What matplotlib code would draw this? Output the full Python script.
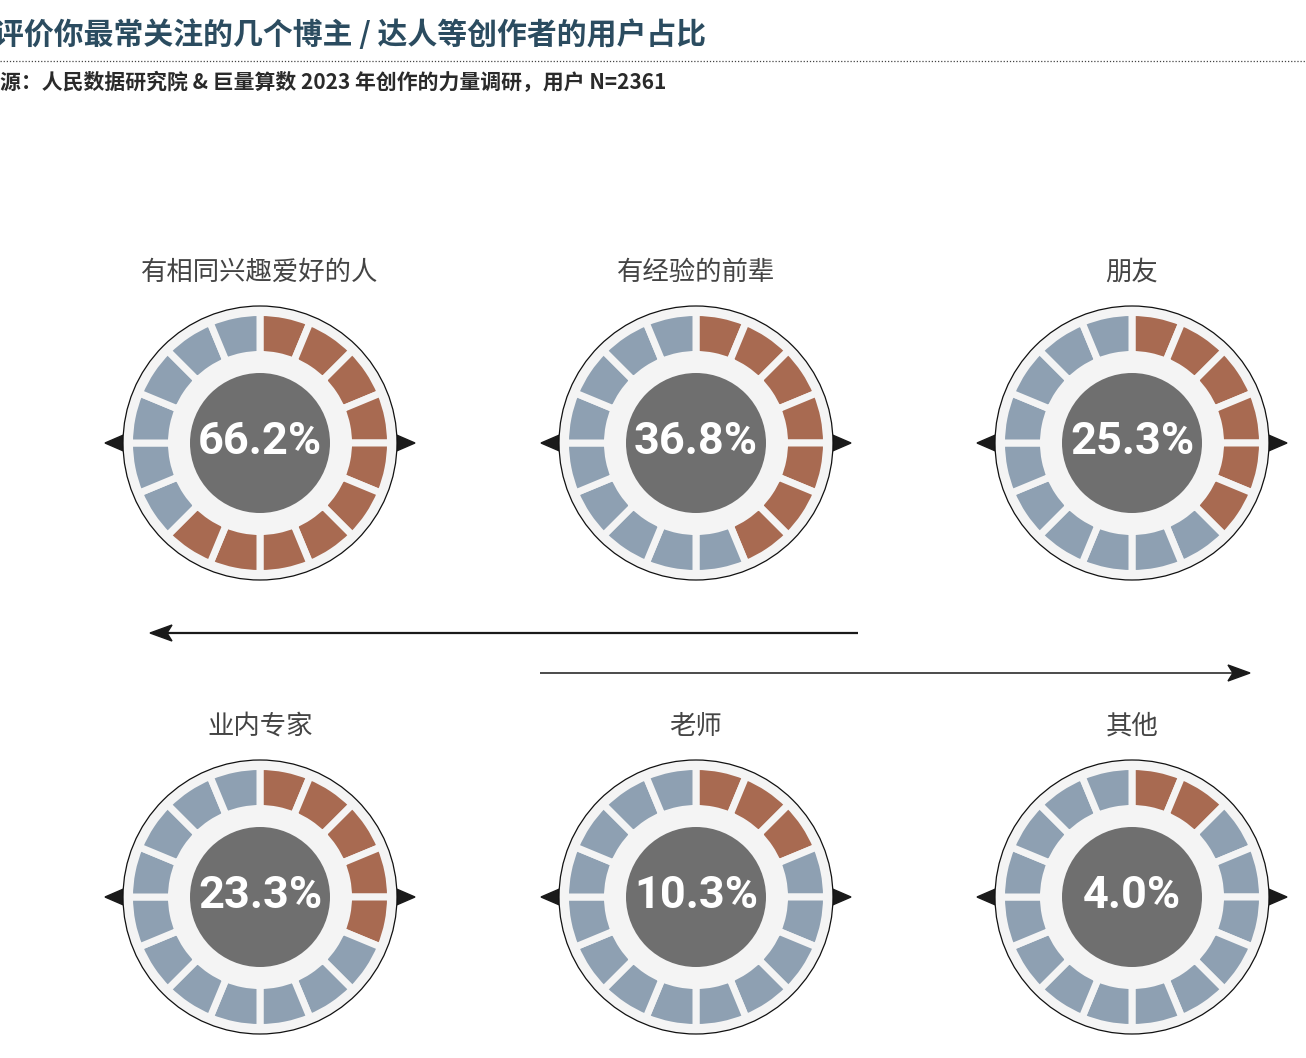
import matplotlib
matplotlib.use('Agg')
import matplotlib.pyplot as plt
from matplotlib import font_manager as fm
from matplotlib.patches import Circle, Wedge, Polygon

plt.rcParams['font.family'] = ['Noto Sans CJK SC', 'DejaVu Sans']

# Data
labels = ['有相同兴趣爱好的人', '有经验的前辈', '朋友', '业内专家', '老师', '其他']
shares = [66.2, 36.8, 25.3, 23.3, 10.3, 4.0]
filled_segments = [10, 7, 6, 5, 3, 2]
n_segments = 16

title = '评价你最常关注的几个博主 / 达人等创作者的用户占比'
subtitle = '源：人民数据研究院 & 巨量算数 2023 年创作的力量调研，用户 N=2361'

# Colours
c_fill = '#a86a51'
c_empty = '#8ea0b2'
c_ring = '#f4f4f4'
c_center = '#6f6f6f'
c_title = '#2b4c60'


def narrow_font():
    """Liberation Sans Narrow bold if present, otherwise Roboto bold."""
    names = {f.name for f in fm.fontManager.ttflist}
    if 'Liberation Sans Narrow' in names:
        return fm.FontProperties(family='Liberation Sans Narrow',
                                 weight='bold', size=37)
    return fm.FontProperties(family=['Roboto', 'DejaVu Sans'], weight='bold',
                             size=32.5)


fig = plt.figure(figsize=(13.06, 10.58), dpi=100)
ax = fig.add_axes([0, 0, 1, 1])
ax.set_xlim(0, 1306)
ax.set_ylim(1058, 0)
ax.axis('off')

# Header
ax.text(706, 35, title, ha='right', va='center', fontsize=21.5,
        fontweight='bold', color=c_title)
ax.plot([0, 1306], [61, 61], color='#444444', lw=0.9, ls=(0, (1, 1.5)))
ax.text(0, 82, subtitle, ha='left', va='center', fontsize=15,
        fontweight='bold', color='#2a2a2a')

pct_font = narrow_font()

col_x = [260, 696, 1132]
row_y = [443, 897]
r_outer = 137
seg_out, seg_w = 130.5, 42
gap_px = 7

for k, (lab, val, nfill) in enumerate(zip(labels, shares, filled_segments)):
    cx = col_x[k % 3]
    cy = row_y[k // 3]

    # side triangles
    for s in (-1, 1):
        ax.add_patch(Polygon([[cx + s * 155, cy], [cx + s * 118, cy - 16],
                              [cx + s * 118, cy + 16]], closed=True,
                             color='#1a1a1a', zorder=1))

    ax.add_patch(Circle((cx, cy), r_outer, facecolor=c_ring,
                        edgecolor='#111111', lw=0.9, zorder=2))

    step = 360 / n_segments
    for i in range(n_segments):
        t1 = -90 + i * step
        ax.add_patch(Wedge((cx, cy), seg_out, t1, t1 + step, width=seg_w,
                           facecolor=c_fill if i < nfill else c_empty,
                           edgecolor=c_ring, lw=gap_px * 0.72,
                           joinstyle='miter', zorder=3))

    ax.add_patch(Circle((cx, cy), 70, facecolor=c_center, edgecolor='none',
                        zorder=4))
    ax.text(cx, cy - 1, f'{val:.1f}%', ha='center', va='center',
            color='white', fontproperties=pct_font, zorder=5)

    ax.text(cx, cy - 171, lab, ha='center', va='center', fontsize=19,
            color='#444444')


def arrow(x0, x1, y, lw):
    d = 1 if x1 > x0 else -1
    ax.plot([x0, x1 - d * 15], [y, y], color='#1a1a1a', lw=lw,
            solid_capstyle='butt')
    ax.add_patch(Polygon([[x1, y], [x1 - d * 22, y - 8], [x1 - d * 17, y],
                          [x1 - d * 22, y + 8]], closed=True,
                         color='#1a1a1a', zorder=3))


arrow(858, 150, 633, 1.6)
arrow(540, 1250, 673, 1.1)

fig.savefig('out.png', dpi=100)
